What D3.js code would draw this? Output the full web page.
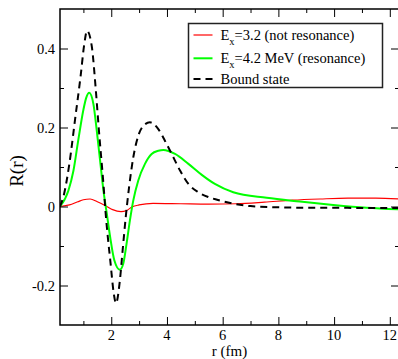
<!DOCTYPE html>
<html>
<head>
<meta charset="utf-8">
<script src="https://cdn.jsdelivr.net/npm/d3@7"></script>
<style>
  body { margin: 0; background: #fff; }
  svg { display: block; }
</style>
</head>
<body>
<svg width="398" height="359"></svg>
<script>
// data
var boundR = [0.16, 0.3, 0.5, 0.7, 0.9, 1.03, 1.13, 1.3, 1.44, 1.56, 1.7, 1.82, 1.97, 2.09, 2.17, 2.31, 2.41, 2.52, 2.64, 2.79, 2.97, 3.15, 3.39, 3.69, 3.93, 4.17, 4.47, 4.77, 5.13, 5.48, 5.8, 6.4, 7.0, 8.0, 9.0, 10.0, 11.0, 12.33];
var boundVal = [0, 0.03, 0.11, 0.22, 0.33, 0.41, 0.445, 0.406, 0.30, 0.19, 0.074, -0.035, -0.14, -0.22, -0.245, -0.187, -0.11, -0.027, 0.049, 0.124, 0.179, 0.204, 0.213, 0.196, 0.166, 0.133, 0.091, 0.057, 0.036, 0.024, 0.017, 0.007, 0.001, -0.002, -0.003, -0.003, -0.004, -0.004];

var resR = [0.16, 0.46, 0.64, 0.82, 1.0, 1.1, 1.21, 1.36, 1.48, 1.6, 1.72, 1.84, 1.96, 2.11, 2.31, 2.43, 2.55, 2.67, 2.79, 2.97, 3.21, 3.45, 3.69, 3.87, 4.29, 4.77, 5.25, 5.72, 6.38, 7.58, 8.77, 9.97, 11.17, 12.33];
var resVal = [0, 0.04, 0.09, 0.17, 0.245, 0.275, 0.288, 0.259, 0.192, 0.116, 0.04, -0.018, -0.077, -0.136, -0.160, -0.145, -0.094, -0.035, 0.015, 0.066, 0.108, 0.133, 0.141, 0.143, 0.133, 0.108, 0.08, 0.057, 0.036, 0.022, 0.0126, 0.004, -0.003, -0.007];

var notResR = [0.16, 0.5, 0.8, 1.0, 1.24, 1.5, 1.84, 2.05, 2.35, 2.55, 2.75, 3.0, 3.5, 4.5, 5.5, 6.5, 7.5, 8.5, 9.5, 10.5, 11.5, 12.33];
var notResVal = [0, 0.004, 0.012, 0.017, 0.019, 0.012, 0, -0.008, -0.013, -0.01, -0.001, 0.004, 0.008, 0.007, 0.006, 0.007, 0.011, 0.016, 0.019, 0.021, 0.021, 0.019];

var xMajor = [2, 4, 6, 8, 10, 12];
var xMinor = [1, 3, 5, 7, 9, 11];
var yMajor = [-0.2, 0, 0.2, 0.4];
var yMinor = [-0.1, 0.1, 0.3];

var legendItems = [
  { main: "E", sub: "x", rest: "=3.2 (not resonance)", color: "#ff0000", width: 1.2, dash: null },
  { main: "E", sub: "x", rest: "=4.2 MeV (resonance)", color: "#00ff00", width: 2, dash: null },
  { main: "Bound state", sub: "", rest: "", color: "#000000", width: 2, dash: "7,5" }
];

var serif = "'Times New Roman', Times, 'Liberation Serif', 'Noto Serif', 'DejaVu Serif', serif";

var svg = d3.select("svg");
var margin = { top: 9, right: -1, bottom: 34, left: 60 };
var width = 398 - margin.left - margin.right;
var height = 359 - margin.top - margin.bottom;

var x = d3.scaleLinear().domain([0.16, 12.33]).range([0, width]);
var y = d3.scaleLinear().domain([-0.3, 0.5]).range([height, 0]);

var g = svg.append("g").attr("transform", "translate(" + margin.left + "," + margin.top + ")");

// clip the curves to the frame
svg.append("defs").append("clipPath").attr("id", "clip")
  .append("rect").attr("width", width).attr("height", height);

var line = d3.line()
  .x(function (d) { return x(d[0]); })
  .y(function (d) { return y(d[1]); })
  .curve(d3.curveMonotoneX);

function zip(a, b) { return a.map(function (v, i) { return [v, b[i]]; }); }

var curves = g.append("g").attr("clip-path", "url(#clip)");
curves.append("path").datum(zip(notResR, notResVal))
  .attr("fill", "none").attr("stroke", "#ff0000").attr("stroke-width", 1.2).attr("d", line);
curves.append("path").datum(zip(resR, resVal))
  .attr("fill", "none").attr("stroke", "#00ff00").attr("stroke-width", 2).attr("d", line);
curves.append("path").datum(zip(boundR, boundVal))
  .attr("fill", "none").attr("stroke", "#000").attr("stroke-width", 2)
  .attr("stroke-dasharray", "7,5").attr("d", line);

// axes: ticks inside on all four sides
function ticks(axis, values, size) {
  return axis.tickValues(values).tickSize(size).tickFormat("");
}
g.append("g").attr("transform", "translate(0," + height + ")").call(ticks(d3.axisTop(x), xMajor, 8));
g.append("g").attr("transform", "translate(0," + height + ")").call(ticks(d3.axisTop(x), xMinor, 4));
g.append("g").call(ticks(d3.axisBottom(x), xMajor, 8));
g.append("g").call(ticks(d3.axisBottom(x), xMinor, 4));
g.append("g").call(ticks(d3.axisRight(y), yMajor, 8));
g.append("g").call(ticks(d3.axisRight(y), yMinor, 4));
g.append("g").attr("transform", "translate(" + width + ",0)").call(ticks(d3.axisLeft(y), yMajor, 8));
g.append("g").attr("transform", "translate(" + width + ",0)").call(ticks(d3.axisLeft(y), yMinor, 4));
g.selectAll(".domain").remove();
g.selectAll(".tick line").attr("stroke", "#000").attr("stroke-width", 1);

// frame
g.append("rect").attr("width", width).attr("height", height)
  .attr("fill", "none").attr("stroke", "#000").attr("stroke-width", 1.5);

// tick labels
g.selectAll(".xlab").data(xMajor).enter().append("text")
  .attr("font-family", serif)
  .attr("x", function (d) { return x(d); })
  .attr("y", height + 15)
  .attr("text-anchor", "middle")
  .attr("font-size", 14.5)
  .text(function (d) { return d; });

g.selectAll(".ylab").data(yMajor).enter().append("text")
  .attr("font-family", serif)
  .attr("x", -5)
  .attr("y", function (d) { return y(d); })
  .attr("dy", "0.35em")
  .attr("text-anchor", "end")
  .attr("font-size", 14.5)
  .text(function (d) { return d; });

// axis titles
svg.append("text")
  .attr("font-family", serif)
  .attr("x", margin.left + width / 2)
  .attr("y", 356)
  .attr("text-anchor", "middle")
  .attr("font-size", 15)
  .text("r (fm)");

svg.append("text")
  .attr("font-family", serif)
  .attr("transform", "translate(23,171) rotate(-90)")
  .attr("text-anchor", "middle")
  .attr("font-size", 19)
  .text("R(r)");

// legend
var legend = svg.append("g").attr("transform", "translate(188.5,23.5)");
legend.append("rect").attr("width", 194).attr("height", 64)
  .attr("fill", "#fff").attr("stroke", "#222").attr("stroke-width", 1.5);

var rows = legend.selectAll(".row").data(legendItems).enter().append("g")
  .attr("transform", function (d, i) { return "translate(0," + [11.5, 34.8, 55.5][i] + ")"; });

rows.append("line")
  .attr("x1", 5).attr("x2", 24)
  .attr("stroke", function (d) { return d.color; })
  .attr("stroke-width", function (d) { return d.width; })
  .attr("stroke-dasharray", function (d) { return d.dash; });

var txt = rows.append("text").attr("font-family", serif).attr("x", 32).attr("y", 5).attr("font-size", 14.5);
txt.append("tspan").text(function (d) { return d.main; });
txt.append("tspan").attr("font-size", 10.5).attr("dy", 5).text(function (d) { return d.sub; });
txt.append("tspan").attr("dy", function (d) { return d.sub ? -5 : 0; }).text(function (d) { return d.rest; });
</script>
</body>
</html>
